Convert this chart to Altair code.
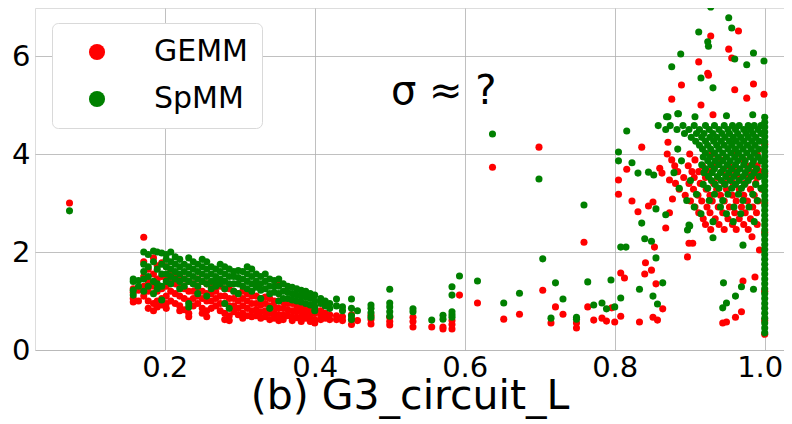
import altair as alt
import pandas as pd

# ---------------- data ----------------
# left cluster: columns at x with GEMM / SpMM y values
left_x = [0.158, 0.165, 0.172, 0.178, 0.185, 0.19, 0.196, 0.202, 0.208, 0.214,
          0.22, 0.226, 0.232, 0.238, 0.244, 0.25, 0.256, 0.262, 0.268, 0.274,
          0.28, 0.286, 0.292, 0.298, 0.304, 0.31, 0.316, 0.322, 0.328, 0.334,
          0.34, 0.346, 0.352, 0.358, 0.364, 0.37, 0.376, 0.382, 0.388, 0.394,
          0.4, 0.408, 0.414, 0.42, 0.429, 0.437, 0.449, 0.457, 0.475, 0.5,
          0.531, 0.556, 0.571, 0.583, 0.593, 0.617, 0.637, 0.652, 0.673, 0.699,
          0.704, 0.715, 0.721, 0.731, 0.749, 0.759, 0.764, 0.772]
left_gemm = [
    [1.25, 1.18, 1.05, 0.98], [1.22, 1.0], [2.30, 1.80, 1.50, 1.30, 1.10],
    [1.65, 1.40, 1.20, 1.00, 0.85], [1.88, 1.55, 1.30, 0.95, 0.80],
    [1.72, 1.45, 1.20, 1.00, 0.88], [1.78, 1.50, 1.25, 1.05, 0.92],
    [1.70, 1.45, 1.30, 1.10, 0.95, 0.85], [1.60, 1.40, 1.20, 1.00],
    [1.55, 1.35, 1.15, 0.95], [1.50, 1.30, 1.10, 0.90, 0.80],
    [1.45, 1.25, 1.05, 0.82], [1.40, 1.20, 1.00, 0.75, 0.68],
    [1.35, 1.20, 1.05, 0.90], [1.45, 1.25, 1.10, 0.95],
    [1.40, 1.20, 1.05, 0.85, 0.75], [1.35, 1.15, 1.00, 0.80, 0.68],
    [1.30, 1.15, 1.00, 0.85], [1.35, 1.20, 1.05, 0.90], [1.30, 1.10, 0.95, 0.80],
    [1.25, 1.10, 0.95, 0.75, 0.62], [1.25, 1.05, 0.90, 0.70, 0.60],
    [1.20, 1.05, 0.90, 0.78], [1.15, 1.00, 0.85, 0.72],
    [1.20, 1.05, 0.90, 0.75, 0.65], [1.15, 1.00, 0.85, 0.70],
    [1.10, 0.95, 0.80, 0.68], [1.10, 0.95, 0.82, 0.70], [1.05, 0.92, 0.78, 0.65],
    [1.08, 0.95, 0.80, 0.68], [1.05, 0.90, 0.75, 0.62], [1.00, 0.88, 0.75, 0.65],
    [1.39, 1.00, 0.85, 0.72, 0.60], [0.98, 0.85, 0.72, 0.62], [0.95, 0.82, 0.70],
    [0.95, 0.80, 0.68, 0.60], [0.90, 0.78, 0.66], [0.92, 0.80, 0.68, 0.58],
    [0.88, 0.76, 0.65], [0.90, 0.78, 0.66, 0.58], [0.88, 0.75, 0.62, 0.55],
    [0.80, 0.70, 0.62], [0.75, 0.65], [0.72, 0.62], [0.70, 0.62], [0.68, 0.60],
    [0.72, 0.62, 0.52], [0.60], [0.71, 0.62, 0.53], [0.67, 0.58, 0.51],
    [0.67, 0.58, 0.47], [0.47], [0.47, 0.43], [0.60, 0.52, 0.43], [1.12], [0.96],
    [3.73], [0.63], [0.73], [4.14], [1.22], [0.55], [0.88], [0.73], [0.45, 0.55],
    [2.20], [0.88], [0.61]]
left_spmm = [
    [1.45, 1.40, 1.22, 1.12], [1.42, 1.30], [2.00, 1.75, 1.60, 1.45, 1.20],
    [1.95, 1.70, 1.50, 1.30], [2.02, 1.80, 1.40, 1.15], [2.00, 1.65, 1.35, 1.25],
    [1.98, 1.75, 1.55, 1.30, 1.02], [1.95, 1.85, 1.70, 1.55, 1.40],
    [2.00, 1.80, 1.65, 1.50, 1.35], [1.90, 1.75, 1.60, 1.45],
    [1.85, 1.70, 1.55, 1.40, 1.25], [1.75, 1.60, 1.45, 1.30],
    [1.88, 1.70, 1.55, 1.40, 0.95, 0.88], [1.80, 1.65, 1.50, 1.35],
    [1.75, 1.60, 1.45, 1.30, 1.15], [1.85, 1.70, 1.55, 1.40],
    [1.80, 1.65, 1.50, 1.35, 1.10], [1.70, 1.55, 1.40, 1.25],
    [1.65, 1.50, 1.40, 1.30], [1.75, 1.60, 1.45, 1.35],
    [1.70, 1.55, 1.40, 1.25, 0.95], [1.65, 1.50, 1.35, 0.85],
    [1.60, 1.50, 1.35, 1.20], [1.62, 1.48, 1.35, 1.15], [1.60, 1.45, 1.30],
    [1.70, 1.55, 1.40, 1.25], [1.65, 1.50, 1.35, 1.20], [1.55, 1.40, 1.28],
    [1.50, 1.35, 1.22, 1.05], [1.55, 1.40, 1.25], [1.45, 1.30, 1.15, 0.85],
    [1.42, 1.30, 1.18], [1.45, 1.30, 1.15, 1.00], [1.35, 1.20, 1.05],
    [1.30, 1.18, 1.05], [1.28, 1.15, 1.02], [1.25, 1.12, 1.00], [1.22, 1.10, 0.98],
    [1.20, 1.08, 0.95], [1.15, 1.05, 0.92], [1.12, 1.00, 0.88, 0.80], [1.05, 0.95],
    [1.00, 0.90], [0.95, 0.85], [1.04, 0.90], [0.88, 0.80], [1.04, 0.85, 0.70, 0.62],
    [0.80], [0.92, 0.85, 0.76, 0.67], [1.24, 0.96, 0.88, 0.78, 0.69], [0.84, 0.78],
    [0.61], [0.71, 0.63], [1.29, 1.12, 0.78, 0.72, 0.67], [1.51], [1.41], [4.41],
    [0.96], [1.16], [3.49], [1.86], [0.65], [1.37], [1.04], [0.63, 0.67], [2.96],
    [1.39], [0.92]]

# isolated points
gemm_pts_x = [0.073, 0.783, 0.789, 0.796, 0.8, 0.808, 0.808, 0.813, 0.805, 0.805, 0.816,
              0.823, 0.831, 0.833, 0.836, 0.84, 0.841, 0.845, 0.849, 0.851, 0.851, 0.853,
              0.855, 0.857, 0.86, 0.863, 0.864, 0.868, 0.871, 0.873, 0.873, 0.877, 0.876,
              0.889, 0.897, 0.899, 0.904, 0.912, 0.915, 0.924, 0.925, 0.928, 0.931, 0.952,
              0.956, 0.96, 0.965, 0.976, 0.985, 0.999, 0.983, 0.993, 0.971, 0.987, 0.969,
              0.961, 0.949, 0.944]
gemm_pts_y = [3.00, 0.65, 0.59, 0.86, 0.57, 0.69, 1.57, 1.47, 3.47, 3.18, 3.69,
              3.04, 2.82, 0.57, 4.14, 1.55, 1.78, 2.94, 1.63, 3.02, 0.67, 2.10,
              1.35, 0.61, 3.71, 3.61, 0.84, 2.49, 4.24, 2.80, 3.47, 3.08, 5.12,
              5.41, 1.90, 2.18, 2.18, 5.88, 5.00, 5.65, 5.61, 6.41, 4.80, 6.14,
              5.96, 5.31, 6.51, 5.14, 5.43, 5.22, 2.31, 2.04, 1.41, 1.49, 0.78,
              0.67, 0.57, 0.55]
spmm_pts_x = [0.073, 0.783, 0.789, 0.8, 0.795, 0.808, 0.808, 0.815, 0.805, 0.805, 0.816,
              0.823, 0.831, 0.833, 0.836, 0.84, 0.845, 0.849, 0.851, 0.852, 0.855, 0.855,
              0.857, 0.864, 0.868, 0.869, 0.871, 0.876, 0.884, 0.885, 0.888, 0.897, 0.899,
              0.9, 0.907, 0.912, 0.915, 0.924, 0.925, 0.928, 0.931, 0.931, 0.949, 0.952,
              0.956, 0.96, 0.976, 0.984, 0.985, 0.999, 0.971, 0.945, 0.969, 0.985, 0.961,
              0.949, 0.944]
spmm_pts_y = [2.84, 0.96, 0.84, 0.88, 1.43, 1.06, 2.10, 2.10, 4.04, 3.86, 4.47,
              3.82, 3.61, 1.24, 2.59, 2.27, 3.63, 2.22, 1.10, 3.57, 2.88, 1.88,
              0.94, 1.37, 2.76, 4.76, 4.76, 5.78, 4.82, 4.82, 6.04, 2.45, 2.55,
              2.53, 4.76, 6.49, 5.55, 6.29, 6.20, 7.00, 5.35, 2.29, 4.78, 6.78,
              6.57, 5.94, 5.82, 4.80, 6.06, 5.90, 2.14, 1.37, 1.29, 1.24, 1.10,
              0.96, 0.86]

# dense cluster near x = 0.9 .. 1.0 : rows of y with x positions
dense_gemm_y = [4.0, 3.88, 3.76, 3.64, 3.52, 3.4, 3.28, 3.16, 3.04, 2.92, 2.8, 2.68,
                2.56, 2.46]
dense_gemm_x = [
    [0.87, 0.9, 0.93, 0.962, 0.99], [0.876, 0.907, 0.941, 0.972],
    [0.88, 0.898, 0.917, 0.931, 0.952, 0.976, 0.99],
    [0.884, 0.903, 0.912, 0.926, 0.943, 0.961, 0.981, 0.994],
    [0.892, 0.906, 0.921, 0.937, 0.951, 0.967, 0.979, 0.99],
    [0.881, 0.899, 0.914, 0.932, 0.946, 0.958, 0.974, 0.988],
    [0.886, 0.905, 0.922, 0.936, 0.949, 0.966, 0.981, 0.996],
    [0.894, 0.911, 0.927, 0.941, 0.957, 0.972, 0.986],
    [0.901, 0.916, 0.93, 0.946, 0.962, 0.977, 0.991],
    [0.907, 0.923, 0.938, 0.953, 0.969, 0.984],
    [0.912, 0.927, 0.944, 0.96, 0.974, 0.989],
    [0.918, 0.934, 0.951, 0.966, 0.981],
    [0.921, 0.939, 0.957, 0.972, 0.99], [0.928, 0.946, 0.962, 0.978]]
dense_spmm_y = [4.58, 4.5, 4.42, 4.34, 4.26, 4.18, 4.1, 4.02, 3.94, 3.86, 3.78, 3.7,
                3.62, 3.54, 3.46, 3.38, 3.3, 3.18, 3.05, 2.92, 2.78, 2.62]
dense_spmm_x = [
    [0.858, 0.874, 0.891, 0.906, 0.921, 0.933, 0.946, 0.957, 0.966, 0.978, 0.986, 0.995],
    [0.868, 0.883, 0.899, 0.913, 0.926, 0.939, 0.951, 0.961, 0.972, 0.981, 0.991],
    [0.893, 0.909, 0.919, 0.931, 0.943, 0.953, 0.964, 0.975, 0.984, 0.995],
    [0.902, 0.916, 0.927, 0.936, 0.947, 0.958, 0.968, 0.978, 0.988],
    [0.908, 0.921, 0.932, 0.942, 0.953, 0.962, 0.972, 0.983, 0.993],
    [0.913, 0.924, 0.936, 0.946, 0.956, 0.967, 0.977, 0.987],
    [0.884, 0.917, 0.928, 0.939, 0.951, 0.961, 0.971, 0.982, 0.992],
    [0.921, 0.933, 0.944, 0.955, 0.965, 0.976, 0.986],
    [0.918, 0.927, 0.938, 0.949, 0.96, 0.97, 0.981, 0.991],
    [0.889, 0.924, 0.934, 0.944, 0.954, 0.964, 0.974, 0.985, 0.995],
    [0.916, 0.928, 0.939, 0.95, 0.961, 0.972, 0.983],
    [0.921, 0.933, 0.945, 0.956, 0.967, 0.978, 0.989],
    [0.879, 0.919, 0.93, 0.941, 0.952, 0.963, 0.974, 0.986],
    [0.925, 0.937, 0.948, 0.959, 0.971, 0.982, 0.993],
    [0.901, 0.929, 0.942, 0.954, 0.966, 0.978],
    [0.918, 0.934, 0.947, 0.961, 0.973, 0.988],
    [0.886, 0.924, 0.939, 0.956, 0.969, 0.995],
    [0.909, 0.933, 0.951, 0.965, 0.984],
    [0.896, 0.926, 0.944, 0.971, 0.99],
    [0.906, 0.941, 0.959, 0.979], [0.915, 0.949, 0.968], [0.931, 0.958, 0.986]]

# column of points at x = 1.0
edge_gemm_y = [0.32, 0.6, 1.2, 2.4, 3.0, 3.6, 4.2]
edge_spmm_y = [0.35, 0.45, 0.55, 0.65, 0.75, 0.85, 0.95, 1.05, 1.15, 1.25, 1.35, 1.45,
               1.55, 1.65, 1.75, 1.85, 1.95, 2.05, 2.15, 2.25, 2.35, 2.45, 2.55, 2.65,
               2.75, 2.85, 2.95, 3.05, 3.15, 3.25, 3.35, 3.45, 3.55, 3.65, 3.75, 3.85,
               3.95, 4.05, 4.15, 4.25, 4.35, 4.45, 4.55, 4.65, 4.75]

series_names = ["GEMM", "SpMM"]
series_colors = ["#ff0000", "#008000"]
x_ticks = [0.2, 0.4, 0.6, 0.8, 1.0]
y_ticks = [0, 2, 4, 6]
note_text = ["σ ≈ ?"]
note_x = [0.572]
note_y = [5.27]
x_title = "(b) G3_circuit_L"

# ---------------- build table ----------------
rows = []
def add(series, xs, ys):
    for a, b in zip(xs, ys):
        rows.append({"x": a, "y": b, "series": series})

for name, cols, px, py, dx, dy, ey in [
        ("GEMM", left_gemm, gemm_pts_x, gemm_pts_y, dense_gemm_x, dense_gemm_y, edge_gemm_y),
        ("SpMM", left_spmm, spmm_pts_x, spmm_pts_y, dense_spmm_x, dense_spmm_y, edge_spmm_y)]:
    for xv, ys in zip(left_x, cols):
        add(name, [xv] * len(ys), ys)
    add(name, px, py)
    for yv, xs in zip(dy, dx):
        add(name, xs, [yv] * len(xs))
    add(name, [1.0] * len(ey), ey)

df = pd.DataFrame(rows)
note_df = pd.DataFrame({"x": note_x, "y": note_y, "t": note_text})

FONT = "DejaVu Sans"
xscale = alt.Scale(domain=[0.027, 1.0257], nice=False, zero=False)
yscale = alt.Scale(domain=[0, 6.98], nice=False)

points = alt.Chart(df).mark_circle(size=50, opacity=1, clip=True).encode(
    x=alt.X("x:Q", scale=xscale,
            axis=alt.Axis(values=x_ticks, format=".1f", title=x_title,
                          labelFontSize=29, labelFont=FONT, labelColor="black",
                          labelOffset=alt.expr("datum.value == 1 ? -5 : 0"),
                          titleFontSize=41, titleFont=FONT, titleFontWeight="normal",
                          titleColor="black", titlePadding=-6, labelPadding=3,
                          tickSize=0, domain=False, gridColor="#b0b0b0",
                          gridWidth=0.8, labelFlush=False)),
    y=alt.Y("y:Q", scale=yscale,
            axis=alt.Axis(values=y_ticks, title=None, labelFontSize=29, labelFont=FONT,
                          labelColor="black", labelPadding=5, tickSize=0, domain=False,
                          gridColor="#b0b0b0", gridWidth=0.8, labelFlush=False)),
    color=alt.Color("series:N",
                    scale=alt.Scale(domain=series_names, range=series_colors),
                    legend=alt.Legend(title=None, orient="none", legendX=17, legendY=15,
                                      symbolType="circle", symbolSize=260,
                                      symbolStrokeWidth=0, labelFontSize=30,
                                      labelFont=FONT, labelColor="black", padding=14,
                                      symbolOffset=16, labelOffset=42, rowPadding=17,
                                      strokeColor="#d9d9d9", fillColor="white",
                                      cornerRadius=6)),
)

note = alt.Chart(note_df).mark_text(fontSize=40, font=FONT, color="black",
                                    align="center", baseline="middle").encode(
    x=alt.X("x:Q", scale=xscale), y=alt.Y("y:Q", scale=yscale), text="t:N")

chart = alt.layer(points, note).properties(
    width=749, height=342,
    autosize=alt.AutoSizeParams(type="none"),
    padding={"left": 27, "top": 0, "right": 0, "bottom": 74},
).configure_view(stroke="black", strokeWidth=2).configure(background="white")

chart.save("out.html", embed_options={"renderer": "svg", "actions": False})
